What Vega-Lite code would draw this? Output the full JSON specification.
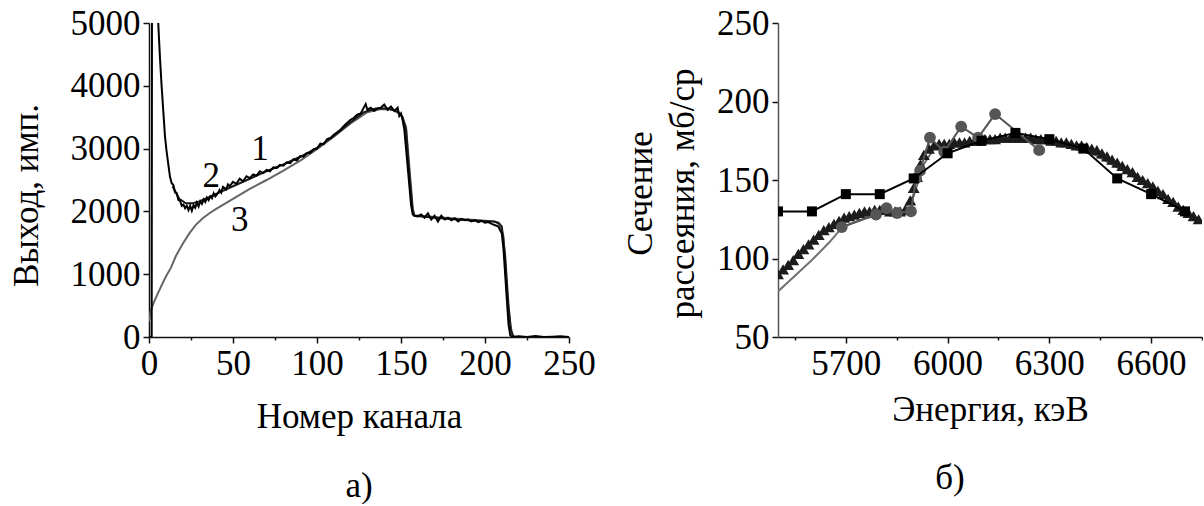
{
  "$schema": "https://vega.github.io/schema/vega-lite/v6.json",
  "background": "white",
  "padding": {"left": 9, "top": 6, "right": 0, "bottom": 0},
  "spacing": 27,
  "config": {
    "view": {"stroke": null},
    "font": "Liberation Serif",
    "axis": {
      "grid": false,
      "domainColor": "#111",
      "domainWidth": 1.5,
      "tickColor": "#111",
      "tickWidth": 1.5,
      "labelFont": "Liberation Serif",
      "labelFontSize": 35,
      "labelColor": "black",
      "titleFont": "Liberation Serif",
      "titleFontSize": 35,
      "titleFontWeight": "normal",
      "titleColor": "black",
      "labelFlush": false,
      "labelOverlap": false,
      "labelPadding": 3
    },
    "title": {"font": "Liberation Serif", "fontSize": 35, "fontWeight": "normal", "color": "black"}
  },
  "datasets": {
    "spec": [
      {"s": "3", "ch": 0, "v": 250}, {"s": "3", "ch": 1, "v": 420}, {"s": "3", "ch": 3, "v": 560}, {"s": "3", "ch": 5, "v": 680},
      {"s": "3", "ch": 8, "v": 850}, {"s": "3", "ch": 10, "v": 960}, {"s": "3", "ch": 13, "v": 1100}, {"s": "3", "ch": 16, "v": 1290},
      {"s": "3", "ch": 20, "v": 1480}, {"s": "3", "ch": 24, "v": 1650}, {"s": "3", "ch": 28, "v": 1790}, {"s": "3", "ch": 32, "v": 1890},
      {"s": "3", "ch": 36, "v": 1970}, {"s": "3", "ch": 40, "v": 2040}, {"s": "3", "ch": 45, "v": 2120}, {"s": "3", "ch": 50, "v": 2200},
      {"s": "3", "ch": 55, "v": 2280}, {"s": "3", "ch": 60, "v": 2360}, {"s": "3", "ch": 70, "v": 2500}, {"s": "3", "ch": 80, "v": 2650},
      {"s": "3", "ch": 90, "v": 2810}, {"s": "3", "ch": 100, "v": 2990}, {"s": "3", "ch": 110, "v": 3190}, {"s": "3", "ch": 120, "v": 3400},
      {"s": "3", "ch": 130, "v": 3580}, {"s": "3", "ch": 138, "v": 3630}, {"s": "3", "ch": 145, "v": 3620}, {"s": "3", "ch": 150, "v": 3540},
      {"s": "3", "ch": 153, "v": 3350}, {"s": "3", "ch": 155, "v": 2700}, {"s": "3", "ch": 157, "v": 2050}, {"s": "3", "ch": 158, "v": 1940},
      {"s": "3", "ch": 170, "v": 1910}, {"s": "3", "ch": 190, "v": 1870}, {"s": "3", "ch": 206, "v": 1840}, {"s": "3", "ch": 209, "v": 1780},
      {"s": "3", "ch": 211, "v": 1600}, {"s": "3", "ch": 213, "v": 700}, {"s": "3", "ch": 215, "v": 200}, {"s": "3", "ch": 216.5, "v": 20},
      {"s": "3", "ch": 218, "v": 0}, {"s": "3", "ch": 250, "v": 0},

      {"s": "2", "ch": 14, "v": 2400}, {"s": "2", "ch": 18, "v": 2200}, {"s": "2", "ch": 22, "v": 2130}, {"s": "2", "ch": 26, "v": 2130},
      {"s": "2", "ch": 30, "v": 2160}, {"s": "2", "ch": 35, "v": 2220}, {"s": "2", "ch": 40, "v": 2280}, {"s": "2", "ch": 50, "v": 2400},
      {"s": "2", "ch": 60, "v": 2520}, {"s": "2", "ch": 70, "v": 2640}, {"s": "2", "ch": 80, "v": 2750}, {"s": "2", "ch": 90, "v": 2870},
      {"s": "2", "ch": 100, "v": 3010}, {"s": "2", "ch": 110, "v": 3200}, {"s": "2", "ch": 120, "v": 3420}, {"s": "2", "ch": 128, "v": 3580},
      {"s": "2", "ch": 135, "v": 3640}, {"s": "2", "ch": 142, "v": 3640}, {"s": "2", "ch": 148, "v": 3590}, {"s": "2", "ch": 151, "v": 3500},
      {"s": "2", "ch": 153, "v": 3300}, {"s": "2", "ch": 155, "v": 2600}, {"s": "2", "ch": 157, "v": 2000}, {"s": "2", "ch": 158, "v": 1930},
      {"s": "2", "ch": 170, "v": 1900}, {"s": "2", "ch": 190, "v": 1860}, {"s": "2", "ch": 205, "v": 1840}, {"s": "2", "ch": 208, "v": 1820},
      {"s": "2", "ch": 210, "v": 1760}, {"s": "2", "ch": 212, "v": 1300}, {"s": "2", "ch": 214, "v": 500}, {"s": "2", "ch": 215.5, "v": 100},
      {"s": "2", "ch": 217, "v": 0}, {"s": "2", "ch": 250, "v": 0},

      {"s": "1", "ch": 0, "v": 0}, {"s": "1", "ch": 1.6, "v": 0}, {"s": "1", "ch": 2, "v": 12000}, {"s": "1", "ch": 5.5, "v": 5000},
      {"s": "1", "ch": 6.5, "v": 4460}, {"s": "1", "ch": 7.5, "v": 4000}, {"s": "1", "ch": 8.5, "v": 3600}, {"s": "1", "ch": 9.5, "v": 3200},
      {"s": "1", "ch": 10.5, "v": 2950}, {"s": "1", "ch": 11.5, "v": 2750}, {"s": "1", "ch": 12.5, "v": 2550}, {"s": "1", "ch": 13.5, "v": 2450},
      {"s": "1", "ch": 14.5, "v": 2420}, {"s": "1", "ch": 15.5, "v": 2300}, {"s": "1", "ch": 16.5, "v": 2290}, {"s": "1", "ch": 17.5, "v": 2180},
      {"s": "1", "ch": 18.5, "v": 2170}, {"s": "1", "ch": 19.5, "v": 2090}, {"s": "1", "ch": 20.5, "v": 2110}, {"s": "1", "ch": 21.5, "v": 2050},
      {"s": "1", "ch": 22.5, "v": 2090}, {"s": "1", "ch": 23.5, "v": 2020}, {"s": "1", "ch": 24.5, "v": 2090}, {"s": "1", "ch": 25.5, "v": 2010},
      {"s": "1", "ch": 26.5, "v": 2100}, {"s": "1", "ch": 27.5, "v": 2060}, {"s": "1", "ch": 28.5, "v": 2140}, {"s": "1", "ch": 29.5, "v": 2080},
      {"s": "1", "ch": 30.5, "v": 2160}, {"s": "1", "ch": 31.5, "v": 2120}, {"s": "1", "ch": 32.5, "v": 2190}, {"s": "1", "ch": 33.5, "v": 2150},
      {"s": "1", "ch": 34.5, "v": 2220}, {"s": "1", "ch": 35.5, "v": 2180}, {"s": "1", "ch": 36.5, "v": 2240}, {"s": "1", "ch": 37.5, "v": 2210},
      {"s": "1", "ch": 38.5, "v": 2290}, {"s": "1", "ch": 39.5, "v": 2240}, {"s": "1", "ch": 41, "v": 2290}, {"s": "1", "ch": 42, "v": 2340},
      {"s": "1", "ch": 43, "v": 2300}, {"s": "1", "ch": 44, "v": 2390}, {"s": "1", "ch": 46, "v": 2350}, {"s": "1", "ch": 47, "v": 2430},
      {"s": "1", "ch": 48, "v": 2400}, {"s": "1", "ch": 50, "v": 2470}, {"s": "1", "ch": 52, "v": 2440}, {"s": "1", "ch": 54, "v": 2520},
      {"s": "1", "ch": 56, "v": 2480}, {"s": "1", "ch": 58, "v": 2560}, {"s": "1", "ch": 60, "v": 2530}, {"s": "1", "ch": 62, "v": 2590},
      {"s": "1", "ch": 64, "v": 2570}, {"s": "1", "ch": 66, "v": 2640}, {"s": "1", "ch": 68, "v": 2610}, {"s": "1", "ch": 70, "v": 2660},
      {"s": "1", "ch": 72, "v": 2640}, {"s": "1", "ch": 74, "v": 2700}, {"s": "1", "ch": 76, "v": 2690}, {"s": "1", "ch": 78, "v": 2740},
      {"s": "1", "ch": 80, "v": 2730}, {"s": "1", "ch": 82, "v": 2780}, {"s": "1", "ch": 84, "v": 2770}, {"s": "1", "ch": 86, "v": 2830},
      {"s": "1", "ch": 88, "v": 2810}, {"s": "1", "ch": 90, "v": 2880}, {"s": "1", "ch": 92, "v": 2870}, {"s": "1", "ch": 94, "v": 2930},
      {"s": "1", "ch": 96, "v": 2930}, {"s": "1", "ch": 98, "v": 2990}, {"s": "1", "ch": 100, "v": 3000}, {"s": "1", "ch": 102, "v": 3080},
      {"s": "1", "ch": 104, "v": 3070}, {"s": "1", "ch": 106, "v": 3150}, {"s": "1", "ch": 108, "v": 3170}, {"s": "1", "ch": 110, "v": 3220},
      {"s": "1", "ch": 112, "v": 3260}, {"s": "1", "ch": 114, "v": 3300}, {"s": "1", "ch": 116, "v": 3360}, {"s": "1", "ch": 118, "v": 3410},
      {"s": "1", "ch": 120, "v": 3460}, {"s": "1", "ch": 122, "v": 3490}, {"s": "1", "ch": 124, "v": 3540}, {"s": "1", "ch": 126, "v": 3560},
      {"s": "1", "ch": 128, "v": 3660}, {"s": "1", "ch": 129, "v": 3710}, {"s": "1", "ch": 130, "v": 3620}, {"s": "1", "ch": 132, "v": 3650},
      {"s": "1", "ch": 134, "v": 3600}, {"s": "1", "ch": 136, "v": 3640}, {"s": "1", "ch": 138, "v": 3650}, {"s": "1", "ch": 140, "v": 3700},
      {"s": "1", "ch": 142, "v": 3620}, {"s": "1", "ch": 144, "v": 3670}, {"s": "1", "ch": 146, "v": 3600}, {"s": "1", "ch": 148, "v": 3650},
      {"s": "1", "ch": 149, "v": 3520}, {"s": "1", "ch": 150, "v": 3560}, {"s": "1", "ch": 151, "v": 3450}, {"s": "1", "ch": 152, "v": 3300},
      {"s": "1", "ch": 153, "v": 3000}, {"s": "1", "ch": 154, "v": 2700}, {"s": "1", "ch": 155, "v": 2400}, {"s": "1", "ch": 156, "v": 2100},
      {"s": "1", "ch": 157, "v": 1950}, {"s": "1", "ch": 158, "v": 1930}, {"s": "1", "ch": 160, "v": 1920}, {"s": "1", "ch": 162, "v": 1950},
      {"s": "1", "ch": 164, "v": 1900}, {"s": "1", "ch": 166, "v": 1970}, {"s": "1", "ch": 168, "v": 1870}, {"s": "1", "ch": 170, "v": 1930},
      {"s": "1", "ch": 172, "v": 1840}, {"s": "1", "ch": 174, "v": 1930}, {"s": "1", "ch": 176, "v": 1870}, {"s": "1", "ch": 178, "v": 1900},
      {"s": "1", "ch": 180, "v": 1860}, {"s": "1", "ch": 182, "v": 1890}, {"s": "1", "ch": 184, "v": 1840}, {"s": "1", "ch": 186, "v": 1880},
      {"s": "1", "ch": 188, "v": 1860}, {"s": "1", "ch": 190, "v": 1870}, {"s": "1", "ch": 192, "v": 1840}, {"s": "1", "ch": 194, "v": 1860},
      {"s": "1", "ch": 196, "v": 1830}, {"s": "1", "ch": 198, "v": 1850}, {"s": "1", "ch": 200, "v": 1820}, {"s": "1", "ch": 202, "v": 1830},
      {"s": "1", "ch": 204, "v": 1800}, {"s": "1", "ch": 206, "v": 1780}, {"s": "1", "ch": 208, "v": 1760}, {"s": "1", "ch": 209, "v": 1700},
      {"s": "1", "ch": 210, "v": 1650}, {"s": "1", "ch": 211, "v": 1400}, {"s": "1", "ch": 212, "v": 1000}, {"s": "1", "ch": 213, "v": 600},
      {"s": "1", "ch": 214, "v": 200}, {"s": "1", "ch": 215, "v": 30}, {"s": "1", "ch": 216, "v": 0}, {"s": "1", "ch": 220, "v": 10},
      {"s": "1", "ch": 225, "v": 0}, {"s": "1", "ch": 230, "v": 15}, {"s": "1", "ch": 235, "v": 0}, {"s": "1", "ch": 240, "v": 5},
      {"s": "1", "ch": 245, "v": 10}, {"s": "1", "ch": 250, "v": 0}
    ],
    "labels": [
      {"ch": 66, "v": 3000, "t": "1"},
      {"ch": 37, "v": 2560, "t": "2"},
      {"ch": 54, "v": 1860, "t": "3"}
    ],
    "calc": [
      {"e": 5500, "y": 79}, {"e": 5550, "y": 89}, {"e": 5600, "y": 99}, {"e": 5650, "y": 110}, {"e": 5690, "y": 120},
      {"e": 5750, "y": 125}, {"e": 5800, "y": 128}, {"e": 5870, "y": 131}, {"e": 5900, "y": 140}, {"e": 5930, "y": 160},
      {"e": 5960, "y": 170}, {"e": 6000, "y": 173}, {"e": 6100, "y": 175}, {"e": 6200, "y": 176}, {"e": 6300, "y": 175},
      {"e": 6400, "y": 170}, {"e": 6500, "y": 158}, {"e": 6600, "y": 145}, {"e": 6700, "y": 130}, {"e": 6750, "y": 124}
    ],
    "tri": [
      {"e": 5500, "y": 90}, {"e": 5515, "y": 93}, {"e": 5530, "y": 96}, {"e": 5545, "y": 99}, {"e": 5560, "y": 103},
      {"e": 5575, "y": 106}, {"e": 5590, "y": 109}, {"e": 5605, "y": 112}, {"e": 5620, "y": 115}, {"e": 5635, "y": 118},
      {"e": 5650, "y": 120}, {"e": 5665, "y": 122}, {"e": 5680, "y": 124}, {"e": 5695, "y": 126}, {"e": 5710, "y": 127},
      {"e": 5725, "y": 128}, {"e": 5740, "y": 129}, {"e": 5755, "y": 130}, {"e": 5770, "y": 130}, {"e": 5785, "y": 131},
      {"e": 5800, "y": 131}, {"e": 5815, "y": 131}, {"e": 5830, "y": 130}, {"e": 5845, "y": 130}, {"e": 5860, "y": 130},
      {"e": 5875, "y": 131}, {"e": 5890, "y": 137}, {"e": 5900, "y": 145}, {"e": 5910, "y": 152}, {"e": 5920, "y": 160},
      {"e": 5930, "y": 166}, {"e": 5945, "y": 170}, {"e": 5960, "y": 172}, {"e": 5975, "y": 173}, {"e": 5990, "y": 173},
      {"e": 6005, "y": 173}, {"e": 6020, "y": 174}, {"e": 6035, "y": 174}, {"e": 6050, "y": 174}, {"e": 6065, "y": 175},
      {"e": 6080, "y": 175}, {"e": 6095, "y": 175}, {"e": 6110, "y": 176}, {"e": 6125, "y": 176}, {"e": 6140, "y": 176},
      {"e": 6155, "y": 177}, {"e": 6170, "y": 177}, {"e": 6185, "y": 177}, {"e": 6200, "y": 177}, {"e": 6215, "y": 177},
      {"e": 6230, "y": 177}, {"e": 6245, "y": 177}, {"e": 6260, "y": 176}, {"e": 6275, "y": 176}, {"e": 6290, "y": 176},
      {"e": 6305, "y": 175}, {"e": 6320, "y": 175}, {"e": 6335, "y": 174}, {"e": 6350, "y": 174}, {"e": 6365, "y": 173},
      {"e": 6380, "y": 172}, {"e": 6395, "y": 172}, {"e": 6410, "y": 171}, {"e": 6425, "y": 170}, {"e": 6440, "y": 169},
      {"e": 6455, "y": 167}, {"e": 6470, "y": 165}, {"e": 6485, "y": 163}, {"e": 6500, "y": 161}, {"e": 6515, "y": 159},
      {"e": 6530, "y": 157}, {"e": 6545, "y": 155}, {"e": 6560, "y": 152}, {"e": 6575, "y": 150}, {"e": 6590, "y": 148},
      {"e": 6605, "y": 146}, {"e": 6620, "y": 143}, {"e": 6635, "y": 141}, {"e": 6650, "y": 138}, {"e": 6665, "y": 136},
      {"e": 6680, "y": 133}, {"e": 6695, "y": 131}, {"e": 6710, "y": 129}, {"e": 6725, "y": 127}, {"e": 6740, "y": 125}
    ],
    "circ": [
      {"e": 5688, "y": 120}, {"e": 5789, "y": 128}, {"e": 5820, "y": 132}, {"e": 5851, "y": 129}, {"e": 5892, "y": 130},
      {"e": 5907, "y": 151}, {"e": 5919, "y": 156}, {"e": 5948, "y": 177}, {"e": 5990, "y": 168}, {"e": 6040, "y": 184},
      {"e": 6090, "y": 177}, {"e": 6140, "y": 192}, {"e": 6270, "y": 169}
    ],
    "sq": [
      {"e": 5500, "y": 130}, {"e": 5600, "y": 130}, {"e": 5700, "y": 141}, {"e": 5800, "y": 141}, {"e": 5900, "y": 151},
      {"e": 6000, "y": 167}, {"e": 6100, "y": 175}, {"e": 6200, "y": 180}, {"e": 6300, "y": 176}, {"e": 6400, "y": 170},
      {"e": 6500, "y": 151}, {"e": 6600, "y": 141}, {"e": 6700, "y": 130}
    ]
  },
  "hconcat": [
    {
      "width": 420,
      "height": 314,
      "title": {"text": "а)", "orient": "bottom", "offset": 35, "anchor": "middle"},
      "layer": [
        {
          "data": {"name": "spec"},
          "mark": {"type": "line", "clip": true, "strokeWidth": 2},
          "encoding": {
            "x": {
              "field": "ch", "type": "quantitative",
              "scale": {"domain": [0, 250], "nice": false, "zero": false},
              "axis": {
                "title": "Номер канала",
                "values": [0, 25, 50, 75, 100, 125, 150, 175, 200, 225, 250],
                "labelExpr": "datum.value % 50 == 0 ? datum.label : ''",
                "tickSize": {"condition": {"test": "datum.value % 50 == 0", "value": 6}, "value": 3},
                "titlePadding": 18
              }
            },
            "y": {
              "field": "v", "type": "quantitative",
              "scale": {"domain": [0, 5000], "nice": false},
              "axis": {
                "title": "Выход, имп.",
                "format": "d",
                "values": [0, 500, 1000, 1500, 2000, 2500, 3000, 3500, 4000, 4500, 5000],
                "labelExpr": "datum.value % 1000 == 0 ? datum.label : ''",
                "tickSize": {"condition": {"test": "datum.value % 1000 == 0", "value": 6}, "value": 3},
                "titlePadding": 26,
                "titleY": 172
              }
            },
            "color": {"field": "s", "type": "nominal", "scale": {"domain": ["1", "2", "3"], "range": ["#000000", "#1a1a1a", "#666666"]}, "legend": null},
            "order": {"field": "ch", "type": "quantitative"}
          }
        },
        {
          "data": {"name": "labels"},
          "mark": {"type": "text", "fontSize": 35, "font": "Liberation Serif", "color": "black", "baseline": "middle"},
          "encoding": {
            "x": {"field": "ch", "type": "quantitative"},
            "y": {"field": "v", "type": "quantitative"},
            "text": {"field": "t"}
          }
        }
      ]
    },
    {
      "width": 424,
      "height": 314,
      "title": {"text": "б)", "orient": "bottom", "offset": 34, "anchor": "middle", "dx": -40},
      "layer": [
        {
          "data": {"name": "calc"},
          "mark": {"type": "line", "clip": true, "strokeWidth": 2, "color": "#707070"},
          "encoding": {
            "x": {
              "field": "e", "type": "quantitative",
              "scale": {"domain": [5500, 6750], "nice": false, "zero": false},
              "axis": {
                "title": "Энергия, кэВ",
                "values": [5550, 5700, 5850, 6000, 6150, 6300, 6450, 6600, 6750],
                "labelExpr": "datum.value % 300 == 0 ? datum.label : ''",
                "format": "d",
                "tickSize": {"condition": {"test": "datum.value % 300 == 0", "value": 6}, "value": 3},
                "titlePadding": 11
              }
            },
            "y": {
              "field": "y", "type": "quantitative",
              "scale": {"domain": [50, 250], "nice": false, "zero": false},
              "axis": {
                "title": ["Сечение", "рассеяния, мб/ср"],
                "titleLineHeight": 42,
                "values": [50, 75, 100, 125, 150, 175, 200, 225, 250],
                "labelExpr": "datum.value % 50 == 0 ? datum.label : ''",
                "tickSize": {"condition": {"test": "datum.value % 50 == 0", "value": 6}, "value": 3},
                "domainColor": "#555",
                "titlePadding": 16,
                "titleY": 170
              }
            }
          }
        },
        {
          "data": {"name": "tri"},
          "mark": {"type": "point", "shape": "triangle-up", "filled": true, "size": 140, "color": "#1c1c1c", "opacity": 1, "clip": true},
          "encoding": {"x": {"field": "e", "type": "quantitative"}, "y": {"field": "y", "type": "quantitative"}}
        },
        {
          "data": {"name": "circ"},
          "mark": {"type": "line", "strokeWidth": 2, "color": "#555555", "point": {"filled": true, "size": 140, "color": "#555555", "opacity": 1}},
          "encoding": {"x": {"field": "e", "type": "quantitative"}, "y": {"field": "y", "type": "quantitative"}}
        },
        {
          "data": {"name": "sq"},
          "mark": {"type": "line", "strokeWidth": 2, "color": "#000000", "clip": true, "point": {"shape": "square", "filled": true, "size": 100, "color": "#000000", "opacity": 1}},
          "encoding": {"x": {"field": "e", "type": "quantitative"}, "y": {"field": "y", "type": "quantitative"}}
        }
      ]
    }
  ]
}
